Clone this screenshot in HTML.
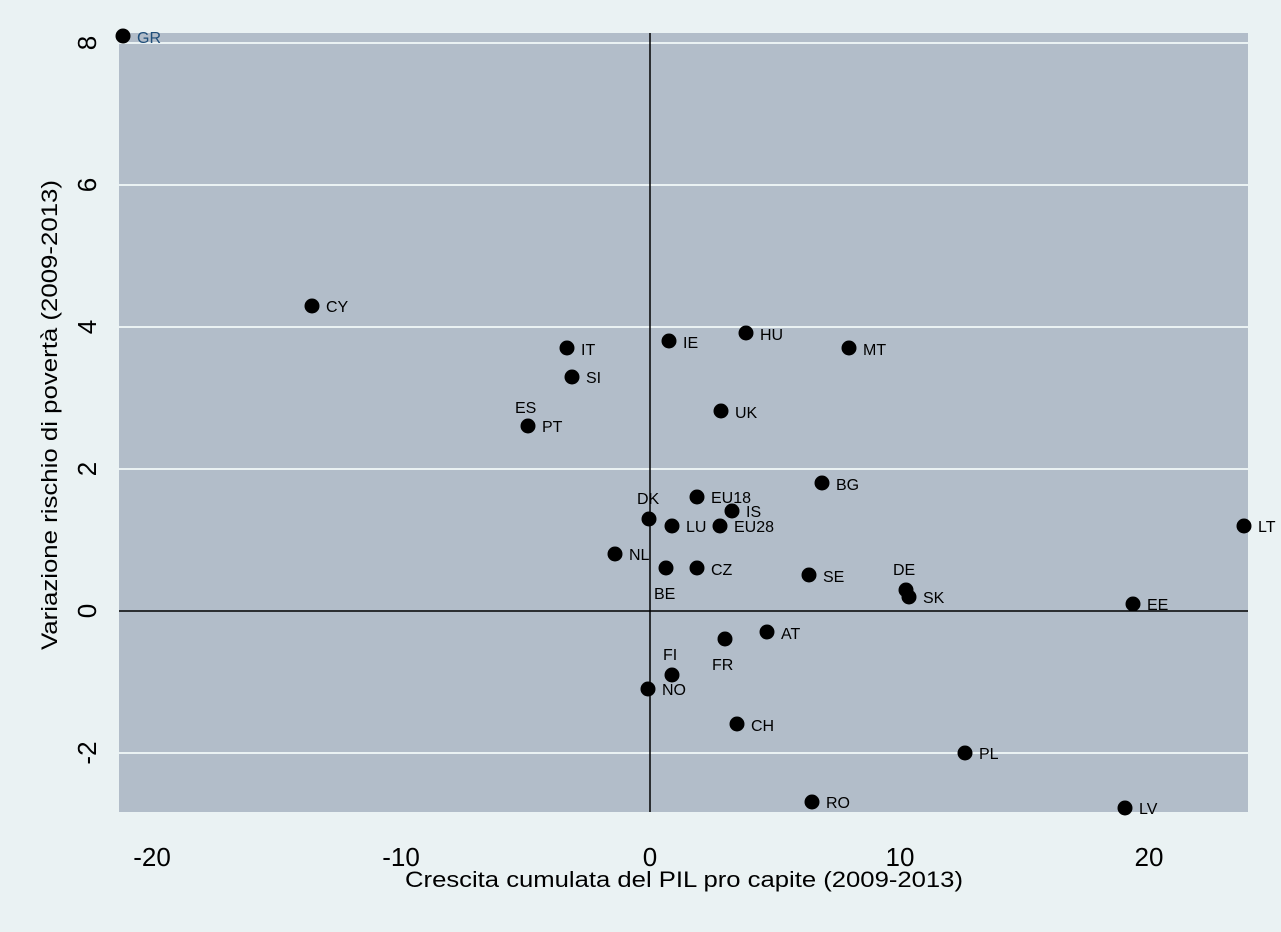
<!DOCTYPE html><html><head><style>body{margin:0;background:#eaf2f3}svg{display:block}text{font-family:"Liberation Sans",sans-serif}</style></head><body>
<svg width="1281" height="932" xmlns="http://www.w3.org/2000/svg">
<rect width="1281" height="932" fill="#eaf2f3"/>
<rect x="119" y="33" width="1129" height="779" fill="#b2bdc9"/>
<g stroke="#eaf2f3" stroke-width="2"><line x1="119" x2="1248" y1="43" y2="43"/><line x1="119" x2="1248" y1="185" y2="185"/><line x1="119" x2="1248" y1="327" y2="327"/><line x1="119" x2="1248" y1="469" y2="469"/><line x1="119" x2="1248" y1="753" y2="753"/></g>
<g stroke="#000" stroke-width="1.5"><line x1="650" x2="650" y1="33" y2="812"/><line x1="119" x2="1248" y1="611" y2="611"/></g>
<g font-size="26" text-anchor="middle" fill="#000"><text x="152" y="866">-20</text><text x="401" y="866">-10</text><text x="650" y="866">0</text><text x="900" y="866">10</text><text x="1149" y="866">20</text></g>
<g font-size="26" text-anchor="middle" fill="#000"><text transform="translate(96,43) rotate(-90)">8</text><text transform="translate(96,185) rotate(-90)">6</text><text transform="translate(96,327) rotate(-90)">4</text><text transform="translate(96,469) rotate(-90)">2</text><text transform="translate(96,611) rotate(-90)">0</text><text transform="translate(96,753) rotate(-90)">-2</text></g>
<text x="405" y="887" font-size="22" textLength="558" lengthAdjust="spacingAndGlyphs">Crescita cumulata del PIL pro capite (2009-2013)</text>
<text transform="translate(57,650) rotate(-90)" font-size="22" textLength="470" lengthAdjust="spacingAndGlyphs">Variazione rischio di povertà (2009-2013)</text>
<g fill="#000">
<circle cx="123" cy="36" r="7.5"/><circle cx="312" cy="306" r="7.5"/><circle cx="567" cy="348" r="7.5"/><circle cx="572" cy="377" r="7.5"/><circle cx="528" cy="426" r="7.5"/><circle cx="669" cy="341" r="7.5"/><circle cx="746" cy="333" r="7.5"/><circle cx="849" cy="348" r="7.5"/><circle cx="721" cy="411" r="7.5"/><circle cx="822" cy="483" r="7.5"/><circle cx="697" cy="497" r="7.5"/><circle cx="732" cy="511" r="7.5"/><circle cx="649" cy="519" r="7.5"/><circle cx="672" cy="526" r="7.5"/><circle cx="720" cy="526" r="7.5"/><circle cx="615" cy="554" r="7.5"/><circle cx="666" cy="568" r="7.5"/><circle cx="697" cy="568" r="7.5"/><circle cx="809" cy="575" r="7.5"/><circle cx="906" cy="590" r="7.5"/><circle cx="909" cy="597" r="7.5"/><circle cx="1133" cy="604" r="7.5"/><circle cx="1244" cy="526" r="7.5"/><circle cx="767" cy="632" r="7.5"/><circle cx="725" cy="639" r="7.5"/><circle cx="672" cy="675" r="7.5"/><circle cx="648" cy="689" r="7.5"/><circle cx="737" cy="724" r="7.5"/><circle cx="965" cy="753" r="7.5"/><circle cx="812" cy="802" r="7.5"/><circle cx="1125" cy="808" r="7.5"/>
</g>
<g font-size="16" fill="#000">
<text x="137" y="43" fill="#1f4e79">GR</text><text x="326" y="312">CY</text><text x="581" y="355">IT</text><text x="586" y="383">SI</text><text x="515" y="413">ES</text><text x="542" y="432">PT</text><text x="683" y="348">IE</text><text x="760" y="340">HU</text><text x="863" y="355">MT</text><text x="735" y="418">UK</text><text x="836" y="490">BG</text><text x="711" y="503">EU18</text><text x="746" y="517">IS</text><text x="637" y="504">DK</text><text x="686" y="532">LU</text><text x="734" y="532">EU28</text><text x="629" y="560">NL</text><text x="654" y="599">BE</text><text x="711" y="575">CZ</text><text x="823" y="582">SE</text><text x="893" y="575">DE</text><text x="923" y="603">SK</text><text x="1147" y="610">EE</text><text x="1258" y="532">LT</text><text x="781" y="639">AT</text><text x="712" y="670">FR</text><text x="663" y="660">FI</text><text x="662" y="695">NO</text><text x="751" y="731">CH</text><text x="979" y="759">PL</text><text x="826" y="808">RO</text><text x="1139" y="814">LV</text>
</g>
</svg></body></html>
